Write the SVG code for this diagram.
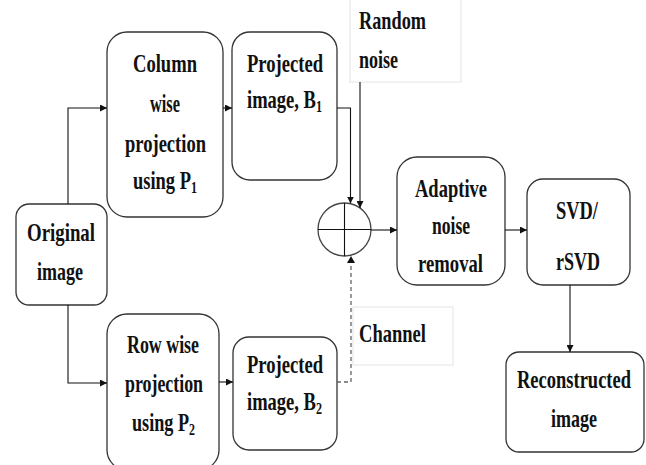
<svg xmlns="http://www.w3.org/2000/svg" width="646" height="465" viewBox="0 0 646 465">
<style>
.box{fill:#fff;stroke:#333;stroke-width:1.3}
.lbl{fill:#fff;stroke:#e4e4e4;stroke-width:1}
.t{font-family:"Liberation Serif","Times New Roman",serif;font-weight:bold;font-size:26px;fill:#111}
.s{font-size:17px}
.c{fill:none;stroke:#111;stroke-width:1.1}
.d{fill:none;stroke:#666;stroke-width:1.3;stroke-dasharray:4 3}
</style>
<defs>
<marker id="ah" viewBox="0 0 10 10" refX="10" refY="5" markerWidth="7" markerHeight="7" markerUnits="userSpaceOnUse" orient="auto">
<path d="M0,0 L10,5 L0,10 z" fill="#111"/>
</marker>
</defs>
<rect width="646" height="465" fill="#fff"/>
<g id="random-noise">
<rect class="lbl" x="350" y="-2" width="111" height="84"/>
<text class="t" x="359" y="29" textLength="67" lengthAdjust="spacingAndGlyphs">Random</text>
<text class="t" x="359" y="68" textLength="39" lengthAdjust="spacingAndGlyphs">noise</text>
</g>
<g id="channel">
<rect class="lbl" x="353" y="307" width="100" height="58"/>
<text class="t" x="359" y="342" textLength="67" lengthAdjust="spacingAndGlyphs">Channel</text>
</g>
<g id="original">
<rect class="box" x="16" y="204" width="91" height="101" rx="13"/>
<text class="t" x="27" y="241" textLength="68" lengthAdjust="spacingAndGlyphs">Original</text>
<text class="t" x="37" y="280" textLength="46" lengthAdjust="spacingAndGlyphs">image</text>
</g>
<g id="column">
<rect class="box" x="107" y="32" width="116" height="185" rx="20"/>
<text class="t" x="133" y="72" textLength="64" lengthAdjust="spacingAndGlyphs">Column</text>
<text class="t" x="150" y="112" textLength="30" lengthAdjust="spacingAndGlyphs">wise</text>
<text class="t" x="125" y="152" textLength="81" lengthAdjust="spacingAndGlyphs">projection</text>
<text class="t" x="133" y="189" textLength="64" lengthAdjust="spacingAndGlyphs">using P<tspan class="s" dy="4">1</tspan></text>
</g>
<g id="b1">
<rect class="box" x="232" y="32" width="105" height="148" rx="18"/>
<text class="t" x="247" y="72" textLength="76" lengthAdjust="spacingAndGlyphs">Projected</text>
<text class="t" x="247" y="108" textLength="75" lengthAdjust="spacingAndGlyphs">image, B<tspan class="s" dy="4">1</tspan></text>
</g>
<g id="row">
<rect class="box" x="107" y="314" width="112" height="156" rx="20"/>
<text class="t" x="127" y="353" textLength="72" lengthAdjust="spacingAndGlyphs">Row wise</text>
<text class="t" x="125" y="392" textLength="78" lengthAdjust="spacingAndGlyphs">projection</text>
<text class="t" x="132" y="431" textLength="63" lengthAdjust="spacingAndGlyphs">using P<tspan class="s" dy="4">2</tspan></text>
</g>
<g id="b2">
<rect class="box" x="233" y="337" width="104" height="113" rx="16"/>
<text class="t" x="247" y="373" textLength="76" lengthAdjust="spacingAndGlyphs">Projected</text>
<text class="t" x="247" y="410" textLength="75" lengthAdjust="spacingAndGlyphs">image, B<tspan class="s" dy="4">2</tspan></text>
</g>
<g id="adder">
<circle cx="344.5" cy="229.5" r="26.5" fill="#fff" stroke="#444" stroke-width="1.3"/>
<line x1="318" y1="229.5" x2="371" y2="229.5" stroke="#111" stroke-width="1.1"/>
<line x1="344.5" y1="203" x2="344.5" y2="256" stroke="#111" stroke-width="1.1"/>
</g>
<g id="adaptive">
<rect class="box" x="397" y="157" width="108" height="128" rx="20"/>
<text class="t" x="415" y="197" textLength="72" lengthAdjust="spacingAndGlyphs">Adaptive</text>
<text class="t" x="432" y="234" textLength="38" lengthAdjust="spacingAndGlyphs">noise</text>
<text class="t" x="418" y="272" textLength="65" lengthAdjust="spacingAndGlyphs">removal</text>
</g>
<g id="svd">
<rect class="box" x="527" y="179" width="103" height="106" rx="16"/>
<text class="t" x="556" y="219" textLength="42" lengthAdjust="spacingAndGlyphs">SVD/</text>
<text class="t" x="556" y="270" textLength="44" lengthAdjust="spacingAndGlyphs">rSVD</text>
</g>
<g id="reconstructed">
<rect class="box" x="506" y="352" width="138" height="100" rx="13"/>
<text class="t" x="517" y="388" textLength="114" lengthAdjust="spacingAndGlyphs">Reconstructed</text>
<text class="t" x="551" y="427" textLength="46" lengthAdjust="spacingAndGlyphs">image</text>
</g>
<g id="connectors">
<path class="c" d="M68,204 V108 H107" marker-end="url(#ah)"/>
<path class="c" d="M68,305 V383 H107" marker-end="url(#ah)"/>
<path class="c" d="M223,108 H232" marker-end="url(#ah)"/>
<path class="c" d="M219,382 H233" marker-end="url(#ah)"/>
<path class="c" d="M337,108 H350.5 V203.5" marker-end="url(#ah)"/>
<path class="c" d="M360,82 V208" marker-end="url(#ah)"/>
<path class="d" d="M337,382 H351 V262"/>
<path d="M347,263 L351,256 L355,263 z" fill="#111"/>
<path class="c" d="M371,230 H397" marker-end="url(#ah)"/>
<path class="c" d="M505,230 H527" marker-end="url(#ah)"/>
<path class="c" d="M570,285 V352" marker-end="url(#ah)"/>
</g>
</svg>
